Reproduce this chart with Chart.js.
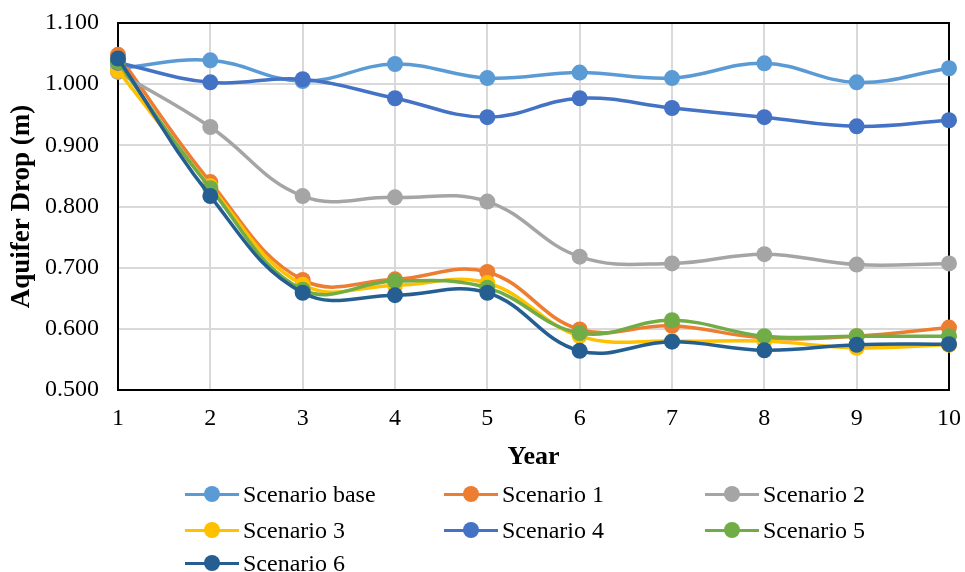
<!DOCTYPE html>
<html>
<head>
<meta charset="utf-8">
<script src="https://cdn.jsdelivr.net/npm/chart.js@4.4.1/dist/chart.umd.min.js"></script>
<style>
  html, body { margin: 0; padding: 0; background: #fff; }
  #wrap { position: relative; width: 965px; height: 572px; font-family: "Liberation Serif", "Times New Roman", serif; }
  #chart { position: absolute; left: 0; top: 0; }
  #legend { position: absolute; left: 0; top: 0; width: 965px; height: 572px; pointer-events: none; }
  .item { position: absolute; height: 24px; display: flex; align-items: center; font-size: 24px; color: #000; white-space: nowrap; }
  .mark { position: relative; width: 54px; height: 24px; margin-right: 4px; flex: none; }
  .mark .ln { position: absolute; left: 0; right: 0; top: 10.5px; height: 3px; }
  .mark .dot { position: absolute; left: 19px; top: 4px; width: 16px; height: 16px; border-radius: 50%; }
</style>
</head>
<body>
<div id="wrap">
  <canvas id="chart" width="965" height="475"></canvas>
  <div id="legend"></div>
</div>
<script>
// --- données ---
const years = ['1', '2', '3', '4', '5', '6', '7', '8', '9', '10'];
const yTicks = [0.5, 0.6, 0.7, 0.8, 0.9, 1.0, 1.1];

const scenarioNames = ['Scenario base', 'Scenario 1', 'Scenario 2', 'Scenario 3', 'Scenario 4', 'Scenario 5', 'Scenario 6'];
const scenarioColors = ['#5B9BD5', '#ED7D31', '#A5A5A5', '#FFC000', '#4472C4', '#70AD47', '#255E91'];

const scenarioBase = [1.026, 1.039, 1.005, 1.033, 1.010, 1.019, 1.010, 1.034, 1.003, 1.026];
const scenario1 = [1.048, 0.840, 0.680, 0.681, 0.693, 0.599, 0.605, 0.585, 0.588, 0.602];
const scenario2 = [1.020, 0.930, 0.817, 0.815, 0.808, 0.718, 0.707, 0.722, 0.705, 0.707];
const scenario3 = [1.022, 0.833, 0.672, 0.671, 0.675, 0.588, 0.580, 0.580, 0.569, 0.574];
const scenario4 = [1.035, 1.003, 1.008, 0.977, 0.946, 0.977, 0.961, 0.946, 0.931, 0.941];
const scenario5 = [1.036, 0.830, 0.664, 0.678, 0.667, 0.593, 0.614, 0.588, 0.588, 0.588];
const scenario6 = [1.042, 0.817, 0.659, 0.655, 0.659, 0.564, 0.579, 0.565, 0.574, 0.575];

const allSeries = [scenarioBase, scenario1, scenario2, scenario3, scenario4, scenario5, scenario6];

// --- cadre noir autour de la zone de tracé ---
const frame = {
  id: 'frame',
  beforeDatasetsDraw(chart) {
    const a = chart.chartArea, ctx = chart.ctx;
    ctx.save();
    ctx.strokeStyle = '#000';
    ctx.lineWidth = 2;
    ctx.strokeRect(a.left, a.top, a.right - a.left, a.bottom - a.top);
    ctx.restore();
  }
};

const serif = '"Liberation Serif", "Times New Roman", serif';

new Chart(document.getElementById('chart'), {
  type: 'line',
  data: {
    labels: years,
    datasets: allSeries.map((s, i) => ({
      label: scenarioNames[i],
      data: s,
      borderColor: scenarioColors[i],
      backgroundColor: scenarioColors[i],
      borderWidth: 3.5,
      pointRadius: 8,
      pointBorderWidth: 0,
      pointHoverRadius: 8,
      tension: 0.4,
      order: allSeries.length - 1 - i
    }))
  },
  options: {
    responsive: false,
    animation: false,
    layout: { padding: { top: 23, right: 16, left: 0, bottom: 0 } },
    plugins: { legend: { display: false }, tooltip: { enabled: false } },
    scales: {
      x: {
        grid: { color: '#d9d9d9', lineWidth: 2, drawTicks: false },
        border: { display: false },
        ticks: { color: '#000', font: { family: serif, size: 24 }, padding: 14, maxRotation: 0 },
        title: { display: true, text: 'Year', color: '#000', font: { family: serif, size: 26, weight: 'bold' }, padding: { top: 4, bottom: 2 } },
        afterFit(scale) { scale.height = 85; scale.paddingRight = 0; scale.paddingLeft = 0; }
      },
      y: {
        min: 0.5,
        max: 1.1,
        afterBuildTicks(scale) { scale.ticks = yTicks.map(v => ({ value: v })); },
        grid: { color: '#d9d9d9', lineWidth: 2, drawTicks: false },
        border: { display: false },
        ticks: { color: '#000', font: { family: serif, size: 24 }, padding: 19, callback: v => Number(v).toFixed(3) },
        title: { display: true, text: 'Aquifer Drop (m)', color: '#000', font: { family: serif, size: 27, weight: 'bold' }, padding: { top: 6, bottom: 0 } },
        afterFit(scale) { scale.width = 118; scale.paddingTop = 0; scale.paddingBottom = 0; }
      }
    }
  },
  plugins: [frame]
});

// --- légende HTML (3 colonnes) ---
const legendEl = document.getElementById('legend');
const colX = [185, 444, 705];
const rowY = [482, 518, 551];
scenarioNames.forEach((name, i) => {
  const el = document.createElement('div');
  el.className = 'item';
  el.style.left = colX[i % 3] + 'px';
  el.style.top = rowY[Math.floor(i / 3)] + 'px';
  el.innerHTML = `<span class="mark"><span class="ln" style="background:${scenarioColors[i]}"></span><span class="dot" style="background:${scenarioColors[i]}"></span></span>${name}`;
  legendEl.appendChild(el);
});
</script>
</body>
</html>
